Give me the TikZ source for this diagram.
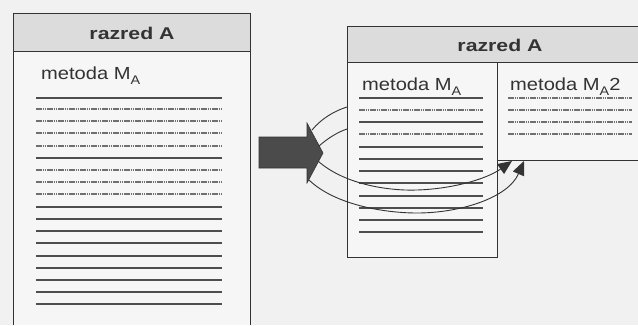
\documentclass[tikz,border=0pt]{standalone}
\usepackage{fontspec}
\setmainfont{Liberation Sans}
\usetikzlibrary{arrows.meta}
\definecolor{bg}{HTML}{F1F1F1}
\definecolor{boxbg}{HTML}{F6F6F6}
\definecolor{hdr}{HTML}{DCDCDC}
\definecolor{ink}{HTML}{333333}
\definecolor{lnsolid}{HTML}{4E4E4E}
\definecolor{lndot}{HTML}{707070}
\definecolor{arr}{HTML}{4B4B4B}
\newcommand{\MA}{M\raisebox{-0.55ex}{\fontsize{12.5}{12.5}\selectfont A}}
\tikzset{
  frame/.style={draw=ink, line width=1pt},
  hdrtext/.style={font=\fontsize{17}{17}\selectfont\bfseries, text=ink, inner sep=0pt},
  mtext/.style={font=\fontsize{17.5}{17.5}\selectfont, text=ink, inner sep=0pt, anchor=base west},
  solidln/.style={draw=lnsolid, line width=1.5pt},
  dotln/.style={draw=lndot, line width=1.3pt, dash pattern=on 1.6pt off 0.6pt},
  flow/.style={draw=ink, line width=0.9pt},
  flowtip/.style={flow, -{Triangle[length=14pt,width=12pt]}}
}
\begin{document}
\begin{tikzpicture}[x=1pt,y=-1pt]
\useasboundingbox (0,0) rectangle (638,325);
\fill[bg] (0,0) rectangle (638,325);
% left class box
\fill[boxbg] (13,13) rectangle (250,325);
\fill[hdr] (13,13) rectangle (250,51);
\draw[frame] (13,325) -- (13,13) -- (250,13) -- (250,325);
\draw[frame] (13,51) -- (250,51);
\node[hdrtext] (lhead) at (132,33) {\scalebox{1.25}[1]{razred A}};
\node[mtext] (lmeth) at (41,79) {\scalebox{1.15}[1]{metoda \MA}};
% left lines
\foreach \y/\s in {98/solidln,109/dotln,121/dotln,133/dotln,146/dotln,158/solidln,170/dotln,182/dotln,194/dotln,207/solidln,219/solidln,231/solidln,243/solidln,256/solidln,268/solidln,280/solidln,292/solidln,304/solidln}
  \draw[\s] (36,\y) -- (222,\y);
% right class box
\fill[boxbg] (347,26) rectangle (638,160);
\fill[boxbg] (347,160) rectangle (497,257);
\fill[hdr] (347,26) rectangle (638,62);
\draw[frame] (638,26) -- (347,26) -- (347,257) -- (497,257) -- (497,160) -- (638,160);
\draw[frame] (347,62) -- (638,62);
\draw[frame] (497,62) -- (497,257);
\node[hdrtext] (rhead) at (500,45) {\scalebox{1.25}[1]{razred A}};
\node[mtext] (rmeth) at (362,90) {\scalebox{1.15}[1]{metoda \MA}};
\node[mtext] (rmeth2) at (510,90) {\scalebox{1.15}[1]{metoda \MA2}};
\foreach \y/\s in {98/solidln,110/dotln,122/solidln,134/dotln,147/solidln,159/solidln,171/solidln,183/solidln,196/solidln,208/solidln,220/solidln,232/solidln}
  \draw[\s] (359,\y) -- (483,\y);
\foreach \y in {98,110,122,134}
  \draw[dotln] (508,\y) -- (632,\y);
% big arrow
\fill[arr, draw=ink, line width=0.6pt] (259,137) -- (307,137) -- (307,123) -- (323,153) -- (307,183) -- (307,168) -- (259,168) -- cycle;
\coordinate (a1) at (312,130);
\coordinate (a2) at (319,146);
\coordinate (a3) at (318,161);
\coordinate (a4) at (309,180);
\coordinate (e1) at (347,107);
\coordinate (e2) at (347,129);
\coordinate (e3) at (512,161);
\coordinate (e4) at (524,161);
\draw[flow] (a1) .. controls (321,119) and (334,111) .. (e1);
\draw[flow] (a2) .. controls (328,138) and (338,132) .. (e2);
\draw[flowtip] (a3) .. controls (345,185) and (390,191) .. (417,190) .. controls (450,189) and (485,180) .. (e3);
\draw[flowtip] (a4) .. controls (335,205) and (385,213) .. (417,213) .. controls (460,213) and (508,198) .. (e4);
\end{tikzpicture}
\end{document}
